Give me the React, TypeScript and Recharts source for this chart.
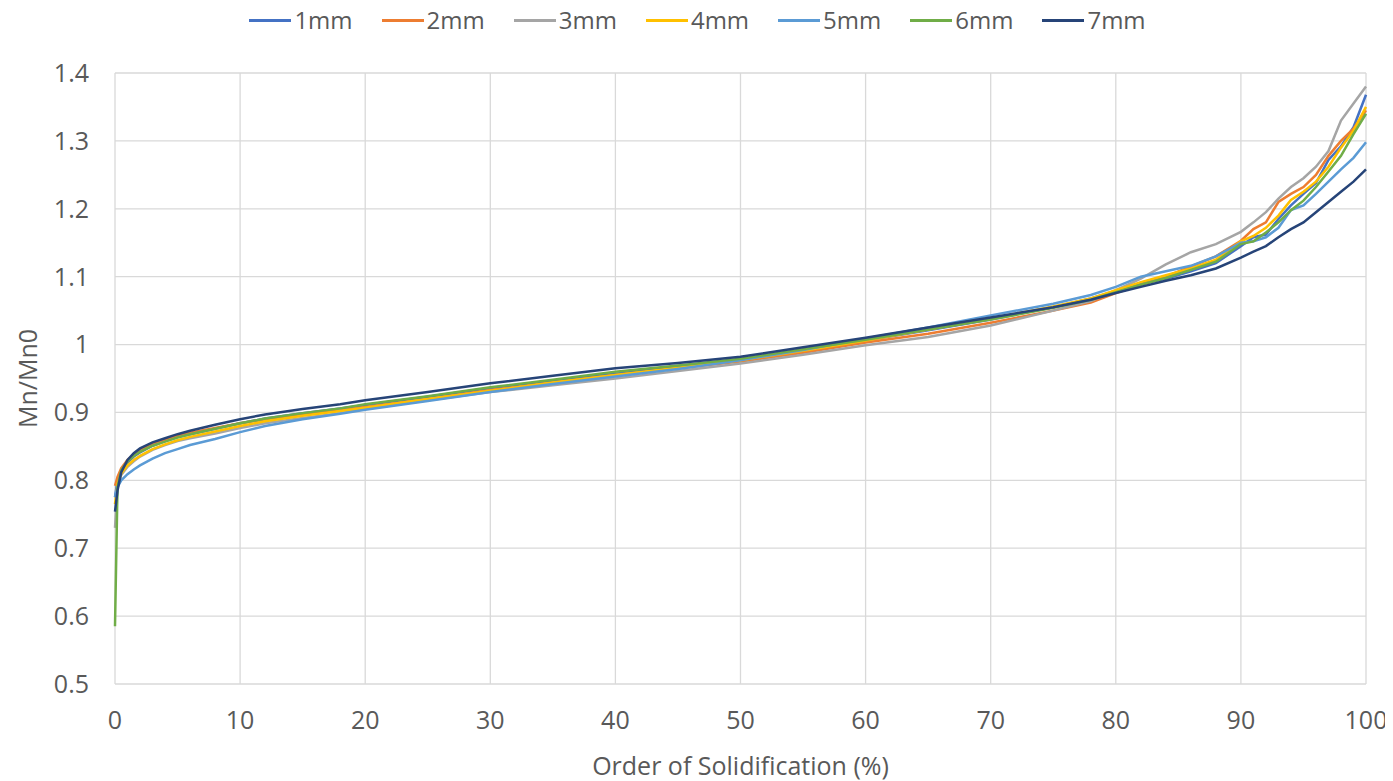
import React from 'react';
import { LineChart, Line, XAxis, YAxis, CartesianGrid, Legend } from 'recharts';

// order of solidification (%)
const X = [
  0, 0.2, 0.5, 1, 1.5, 2, 3, 4, 5, 6, 8, 10, 12, 15, 18, 20, 25, 30, 35, 40, 45,
  50, 55, 60, 65, 70, 75, 78, 80, 82, 84, 86, 88, 90, 91, 92, 93, 94, 95, 96, 97, 98, 99, 100,
];

// Mn/Mn0 for each sample thickness
const mm1 = [
  0.775, 0.8, 0.815, 0.826, 0.835, 0.841, 0.851, 0.858, 0.864, 0.868, 0.876, 0.884, 0.891, 0.899, 0.906, 0.911, 0.923, 0.936, 0.947, 0.957, 0.967,
  0.977, 0.99, 1.006, 1.021, 1.037, 1.055, 1.068, 1.079, 1.09, 1.097, 1.108, 1.12, 1.145, 1.158, 1.162, 1.185, 1.205, 1.222, 1.238, 1.272, 1.292, 1.32, 1.368,
];
const mm2 = [
  0.792, 0.805, 0.818, 0.83, 0.838, 0.844, 0.853, 0.86, 0.866, 0.87, 0.877, 0.884, 0.89, 0.897, 0.903, 0.908, 0.92, 0.933, 0.944, 0.955, 0.965,
  0.975, 0.988, 1.003, 1.016, 1.032, 1.05, 1.062, 1.076, 1.088, 1.1, 1.115, 1.13, 1.153, 1.17, 1.18, 1.21, 1.222, 1.232, 1.25, 1.278, 1.3, 1.318, 1.345,
];
const mm3 = [
  0.73, 0.79, 0.808, 0.82, 0.828, 0.835, 0.845, 0.852, 0.858, 0.862, 0.869, 0.877, 0.884, 0.892, 0.899, 0.905, 0.918, 0.93, 0.94, 0.95, 0.961,
  0.972, 0.985, 0.999, 1.011, 1.028, 1.05, 1.064, 1.08, 1.097, 1.118, 1.136, 1.148, 1.166, 1.18, 1.195, 1.215, 1.232, 1.245, 1.262, 1.285, 1.33, 1.355, 1.38,
];
const mm4 = [
  0.765, 0.795, 0.81, 0.822, 0.83, 0.836, 0.846, 0.853, 0.859, 0.864, 0.872, 0.88, 0.887, 0.895, 0.902, 0.907, 0.92, 0.932, 0.944, 0.955, 0.966,
  0.977, 0.991, 1.006, 1.022, 1.038, 1.056, 1.068, 1.08, 1.092, 1.102, 1.112, 1.125, 1.152, 1.16, 1.172, 1.19, 1.213, 1.225, 1.24, 1.262, 1.29, 1.315, 1.35,
];
const mm5 = [
  0.775, 0.79, 0.8, 0.809, 0.816, 0.822, 0.832, 0.84, 0.846, 0.852, 0.861, 0.871, 0.88, 0.89, 0.898, 0.904, 0.917, 0.93, 0.942, 0.953, 0.964,
  0.977, 0.992, 1.009, 1.025, 1.043, 1.06, 1.073, 1.085, 1.1, 1.108, 1.116, 1.13, 1.15, 1.152, 1.158, 1.172, 1.198, 1.205, 1.222, 1.24, 1.258, 1.275, 1.298,
];
const mm6 = [
  0.585, 0.79, 0.815, 0.828, 0.836, 0.842, 0.851, 0.857, 0.863, 0.868, 0.876, 0.884, 0.891, 0.899, 0.906, 0.912, 0.924, 0.937, 0.948, 0.96, 0.969,
  0.979, 0.993, 1.007, 1.022, 1.037, 1.054, 1.066, 1.077, 1.088, 1.098, 1.11, 1.122, 1.148, 1.152, 1.165, 1.18, 1.198, 1.212, 1.232, 1.255, 1.278, 1.31, 1.34,
];
const mm7 = [
  0.754, 0.785, 0.812, 0.83, 0.84, 0.847, 0.856, 0.862, 0.868, 0.873, 0.882, 0.89, 0.897, 0.905, 0.912, 0.918, 0.93, 0.943, 0.954, 0.965, 0.973,
  0.982, 0.996, 1.01, 1.025, 1.04, 1.055, 1.066, 1.076, 1.085, 1.094, 1.102, 1.112, 1.128, 1.137, 1.145, 1.158, 1.17, 1.18, 1.195, 1.21, 1.225, 1.24, 1.258,
];

const SERIES = [
  { key: 'mm1', name: '1mm', color: '#4472C4', values: mm1 },
  { key: 'mm2', name: '2mm', color: '#ED7D31', values: mm2 },
  { key: 'mm3', name: '3mm', color: '#A5A5A5', values: mm3 },
  { key: 'mm4', name: '4mm', color: '#FFC000', values: mm4 },
  { key: 'mm5', name: '5mm', color: '#5B9BD5', values: mm5 },
  { key: 'mm6', name: '6mm', color: '#70AD47', values: mm6 },
  { key: 'mm7', name: '7mm', color: '#264478', values: mm7 },
];

const X_TICKS = [0, 10, 20, 30, 40, 50, 60, 70, 80, 90, 100];
const Y_TICKS = [0.5, 0.6, 0.7, 0.8, 0.9, 1.0, 1.1, 1.2, 1.3, 1.4];

const FONT = '"Open Sans", sans-serif';
const TEXT = '#595959';
const GRID = '#d9d9d9';

const chartData = X.map((x, i) => {
  const row: any = { x };
  SERIES.forEach((s) => {
    row[s.key] = s.values[i];
  });
  return row;
});

const renderLegend = () => (
  <div
    style={{
      display: 'flex',
      justifyContent: 'center',
      alignItems: 'center',
      gap: 29,
      height: 24,
      lineHeight: '24px',
      paddingRight: 6,
      fontFamily: FONT,
      fontSize: 24,
      color: TEXT,
    }}
  >
    {SERIES.map((s) => (
      <div key={s.key} style={{ display: 'flex', alignItems: 'center' }}>
        <span style={{ display: 'inline-block', width: 42, height: 3, background: s.color, marginRight: 3 }} />
        <span>{s.name}</span>
      </div>
    ))}
  </div>
);

export default function App() {
  return (
    <LineChart
      width={1385}
      height={773}
      data={chartData}
      margin={{ top: 65, right: 27, left: 0, bottom: 0 }}
      style={{ fontFamily: FONT }}
    >
      <CartesianGrid stroke={GRID} strokeWidth={1.3} horizontalValues={Y_TICKS} verticalValues={X_TICKS} />
      <XAxis
        dataKey="x"
        type="number"
        domain={[0, 100]}
        ticks={X_TICKS}
        height={97}
        axisLine={false}
        tickLine={false}
        tickSize={0}
        tickMargin={27}
        tick={{ fill: TEXT, fontSize: 25, fontFamily: FONT }}
        label={{ value: 'Order of Solidification (%)', position: 'insideBottom', offset: 6, fill: TEXT, fontSize: 25, fontFamily: FONT }}
      />
      <YAxis
        type="number"
        domain={[0.5, 1.4]}
        ticks={Y_TICKS}
        width={107}
        axisLine={false}
        tickLine={false}
        tickSize={0}
        tickMargin={26}
        tickFormatter={(v: number) => String(Number(v.toFixed(1)))}
        tick={{ fill: TEXT, fontSize: 25, fontFamily: FONT }}
        label={{
          value: 'Mn/Mn0',
          angle: -90,
          position: 'insideLeft',
          offset: 20,
          fill: TEXT,
          fontSize: 25,
          fontFamily: FONT,
          style: { textAnchor: 'middle' },
        }}
      />
      <Legend
        verticalAlign="middle"
        align="center"
        content={renderLegend}
        wrapperStyle={{ top: 0, left: 0, width: 1385, height: 24 }}
      />
      {SERIES.map((s) => (
        <Line
          key={s.key}
          dataKey={s.key}
          name={s.name}
          type="linear"
          stroke={s.color}
          strokeWidth={2.5}
          dot={false}
          isAnimationActive={false}
        />
      ))}
    </LineChart>
  );
}
